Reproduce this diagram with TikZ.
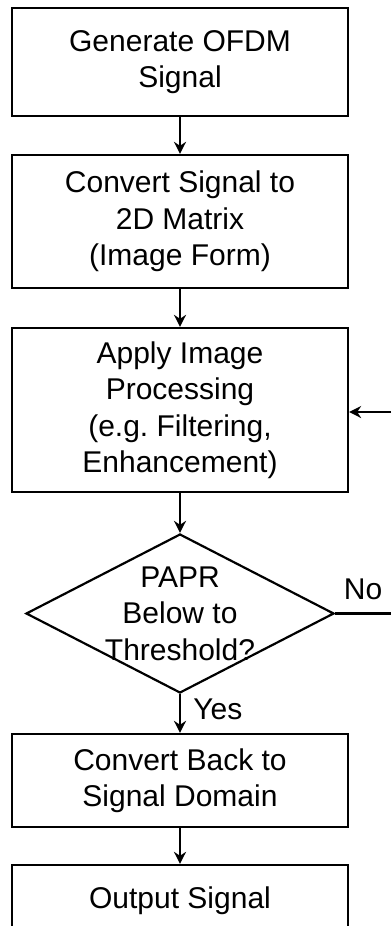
\documentclass[tikz,border=0pt]{standalone}
\usepackage{fontspec}
\setmainfont{Liberation Sans}
\usetikzlibrary{arrows.meta,shapes.geometric}
\frenchspacing

\begin{document}
\begin{tikzpicture}
[
    x=1pt, y=-1pt,
    every node/.style={font=\fontsize{30}{36.5}\selectfont, align=center},
    stepbox/.style={draw, line width=2.2pt, minimum width=336pt, inner sep=0pt},
    decision/.style={draw, diamond, line width=2.2pt, minimum width=308pt, minimum height=159pt, inner sep=0pt},
    flow/.style={-{Stealth[length=12pt, width=12pt]}, line width=2.2pt},
]
\useasboundingbox (0,0) rectangle (391,926);
\clip (0,0) rectangle (391,926);
\node (gen) [stepbox, minimum height=108pt] at (180,62)
{Generate OFDM\\Signal};
\node (mat) [stepbox, minimum height=133pt] at (180,221.5)
{Convert Signal to\\2D Matrix\\(Image Form)};
\node (proc) [stepbox, minimum height=164pt] at (180,410)
{Apply Image\\Processing\\(e.g. Filtering,\\Enhancement)};
\node (papr) [decision] at (180,613.5) {};
\node (paprtext) at (papr) {PAPR\\Below to\\Threshold?};
\node (back) [stepbox, minimum height=93pt] at (180,780.5)
{Convert Back to\\Signal Domain};
\node (out) [stepbox, minimum height=72pt] at (180,901)
{Output Signal};
\coordinate (noend) at (391,613.5);
\coordinate (loopin) at (391,412);

\draw [flow] (gen) -- (mat);
\draw [flow] (mat) -- (proc);
\draw [flow] (proc) -- (papr);
\draw [flow] (papr) -- node[right=9pt, pos=0.38] {Yes} (back);
\draw [flow] (back) -- (out);
\draw [line width=2.2pt] (papr.east) -- node[above=9pt] {No} (noend);
\draw [flow] (loopin) -- (proc.east |- loopin);
\end{tikzpicture}
\end{document}
